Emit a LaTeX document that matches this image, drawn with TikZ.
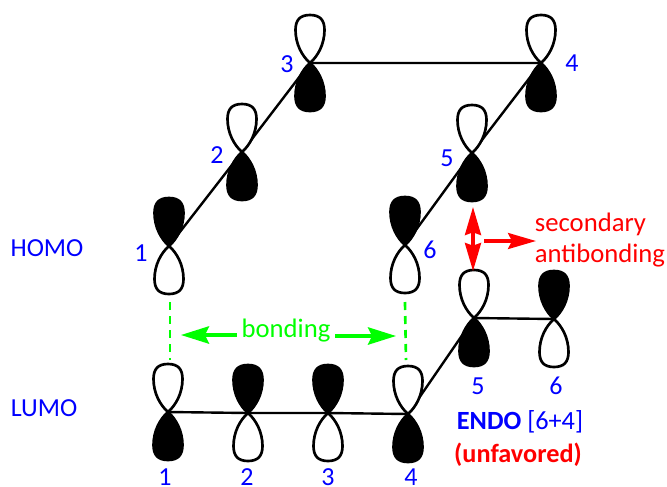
\documentclass[tikz,border=0pt]{standalone}
\usepackage{fontspec}
\setmainfont{Carlito}
\usetikzlibrary{arrows.meta}
\definecolor{labelblue}{RGB}{0,0,255}
\definecolor{bondgreen}{RGB}{0,255,0}
\definecolor{antired}{RGB}{255,0,0}
\tikzset{
    %Define one lobe of a p orbital
    lobe/.pic={
        \path[pic actions,line width=2pt] (0,0)
          .. controls (-8,-7) and (-14.5,-19) .. (-14.5,-33)
          .. controls (-14.5,-43) and (-10,-48) .. (0,-48)
          .. controls (10,-48) and (14.5,-43) .. (14.5,-33)
          .. controls (14.5,-19) and (8,-7) .. (0,0) -- cycle;
    },
    %Define styles for the two phases
    empty/.style={draw=black,fill=white},
    full/.style={draw=black,fill=black},
    %Define style for the sigma frame
    frame/.style={draw=black,line width=1.8pt},
    num/.style={text=labelblue,font=\fontsize{19.5}{23}\selectfont},
    % Define arrow styles
    bondpil/.style={bondgreen,line width=2.4pt,-{Stealth[length=21pt,width=13pt,inset=3pt]}},
    antipil/.style={antired,line width=2.4pt,-{Stealth[length=21pt,width=12pt,inset=3pt]}},
    overlap/.style={bondgreen,line width=2pt,dash pattern=on 6pt off 4.5pt}
}
\begin{document}
\begin{tikzpicture}[x=0.75pt,y=-0.75pt]
 \useasboundingbox (0,0) rectangle (667,486);

 %Atoms of the 4 pi part
 \coordinate (h1) at (169,246);
 \coordinate (h2) at (242,152);
 \coordinate (h3) at (310,63);
 \coordinate (h4) at (541,63);
 \coordinate (h5) at (472,153);
 \coordinate (h6) at (405,245);
 %Atoms of the 6 pi part
 \coordinate (l1) at (168,412);
 \coordinate (l2) at (248,413);
 \coordinate (l3) at (328,413);
 \coordinate (l4) at (408,414);
 \coordinate (l5) at (474,318);
 \coordinate (l6) at (554,319);

 %Frame
 \draw[frame] (h1) -- (h2) -- (h3) -- (h4) -- (h5) -- (h6);
 \draw[frame] (l1) -- (l2) -- (l3) -- (l4) -- (l5) -- (l6);

 %Orbitals
 \foreach \a/\top/\bot in {h1/full/empty,h2/empty/full,h3/empty/full,h4/empty/full,h5/empty/full,h6/full/empty,
                           l1/empty/full,l2/full/empty,l3/full/empty,l4/empty/full,l5/empty/full,l6/full/empty}{
   \pic[\top] at (\a) {lobe};
   \pic[\bot,yscale=-1] at (\a) {lobe};
 }

 %Numbers
 \node[num] (n1) at (141,253) {1};
 \node[num] (n2) at (217,155) {2};
 \node[num] (n3) at (287,64) {3};
 \node[num] (n4) at (572,63) {4};
 \node[num] (n5) at (447,158) {5};
 \node[num] (n6) at (430,250) {6};
 \node[num,inner sep=0pt] (m1) at (165,477) {1};
 \node[num,inner sep=0pt] (m2) at (247,477) {2};
 \node[num,inner sep=0pt] (m3) at (328,477) {3};
 \node[num,inner sep=0pt] (m4) at (411,477) {4};
 \node[num] (m5) at (478,386) {5};
 \node[num] (m6) at (556,386) {6};

 \node[num] (homo) at (47,248) {HOMO};
 \node[num] (lumo) at (44,408) {LUMO};

 %Bonding
 \coordinate (d1) at (170,302);
 \coordinate (d2) at (170,360);
 \coordinate (d3) at (405,302);
 \coordinate (d4) at (406,360);
 \draw[overlap] (d1) -- (d2);
 \draw[overlap] (d3) -- (d4);
 \node[text=bondgreen,font=\fontsize{20}{24}\selectfont] (bonding) at (286,331) {bonding};
 \coordinate (b1) at (181,335);
 \coordinate (b2) at (396,336);
 \draw[bondpil] (bonding.west |- b1) -- (b1);
 \draw[bondpil] (bonding.east |- b2) -- (b2);

 %Antibonding
 \coordinate (a1) at (473,207);
 \coordinate (a2) at (473,271);
 \coordinate (a3) at (484,241);
 \coordinate (a4) at (536,241);
 \draw[antipil,{Stealth[length=21pt,width=12pt,inset=2pt]}-{Stealth[length=21pt,width=12pt,inset=2pt]}] (a1) -- (a2);
 \draw[antipil] (a3) -- (a4);
 \node[text=antired,font=\fontsize{20}{23}\selectfont,align=left] (anti) at (600,240) {secondary\\antibonding};

 %Caption
 \node[font=\fontsize{19.7}{23}\selectfont,text=labelblue] (endo) at (520,422) {\textbf{ENDO} [6+4]};
 \node[font=\fontsize{19.7}{23}\selectfont\bfseries,text=antired] (unfav) at (518,455) {(unfavored)};
\end{tikzpicture}
\end{document}
